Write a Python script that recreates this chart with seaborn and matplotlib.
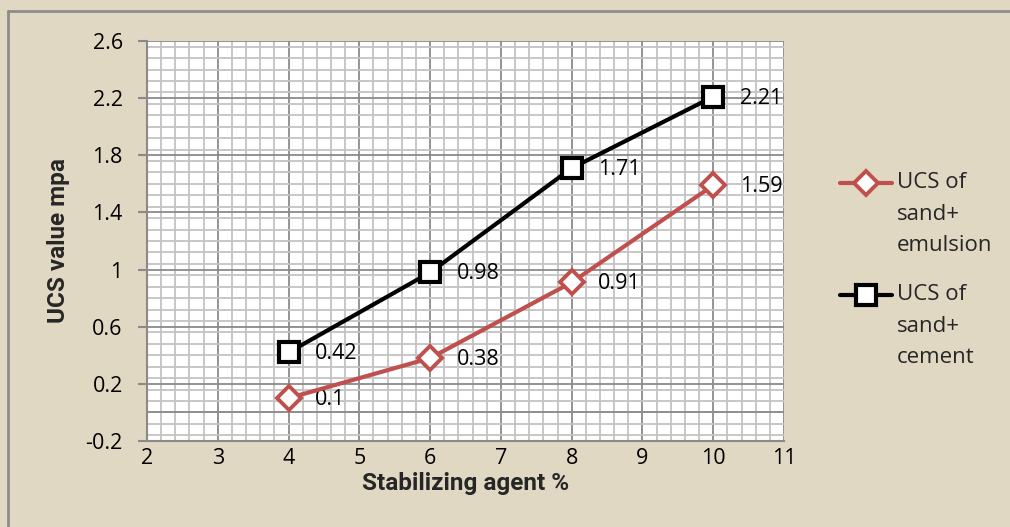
import seaborn as sns
import matplotlib.pyplot as plt
import matplotlib.lines as mlines
import pandas as pd
import numpy as np
from matplotlib.ticker import MultipleLocator

# data
agent_pct = [4, 6, 8, 10]
ucs_emulsion = [0.1, 0.38, 0.91, 1.59]
ucs_cement = [0.42, 0.98, 1.71, 2.21]
series_names = ['UCS of\nsand+\nemulsion', 'UCS of\nsand+\ncement']
y_ticks = [-0.2, 0.2, 0.6, 1.0, 1.4, 1.8, 2.2, 2.6]
y_tick_labels = ['-0.2', '0.2', '0.6', '1', '1.4', '1.8', '2.2', '2.6']

df = pd.DataFrame({
    'agent': agent_pct * 2,
    'ucs': ucs_emulsion + ucs_cement,
    'series': [series_names[0]] * 4 + [series_names[1]] * 4,
})

sns.set_theme(style='white')
plt.rcParams['font.family'] = ['Open Sans', 'DejaVu Sans']

bg = '#E1D8C3'
red = '#C0504D'
fs = 15.5
fig = plt.figure(figsize=(10.1, 5.27), dpi=100, facecolor=bg)
ax = fig.add_axes([147 / 1010, 1 - 441 / 527, 637 / 1010, 400 / 527])
ax.set_facecolor('white')

# chart border (left / top)
fig.add_artist(mlines.Line2D([8 / 1010, 8 / 1010], [0, 1 - 11 / 527], color='#8C8C8C', lw=2,
                             transform=fig.transFigure))
fig.add_artist(mlines.Line2D([8 / 1010, 1], [1 - 11 / 527, 1 - 11 / 527], color='#8C8C8C', lw=2,
                             transform=fig.transFigure))

ax.set_xlim(2, 11)
ax.set_ylim(-0.2, 2.6)
ax.xaxis.set_major_locator(MultipleLocator(1))
ax.xaxis.set_minor_locator(MultipleLocator(0.2))
ax.yaxis.set_minor_locator(MultipleLocator(0.08))
ax.set_yticks(y_ticks)
ax.set_yticklabels(y_tick_labels)
ax.grid(which='minor', color='#C3C3C3', lw=1.3)
ax.grid(which='major', color='#8A8A8A', lw=1.3)
ax.axhline(0, color='#8A8A8A', lw=1.3, zorder=1)
ax.set_axisbelow(True)
for s in ['top', 'right']:
    ax.spines[s].set_visible(False)
for s in ['left', 'bottom']:
    ax.spines[s].set_color('#8A8A8A')
    ax.spines[s].set_linewidth(1.5)
ax.tick_params(axis='both', which='major', labelsize=fs, labelcolor='black')
ax.tick_params(axis='y', left=True, direction='out', length=6.5, color='#8A8A8A',
               width=1.5, pad=11)
ax.tick_params(axis='x', bottom=False, pad=-1)

sns.lineplot(data=df[df['series'] == series_names[0]], x='agent', y='ucs', ax=ax,
             color=red, lw=3, marker='D', markersize=12, markerfacecolor='white',
             markeredgecolor=red, markeredgewidth=2.8, zorder=4)
sns.lineplot(data=df[df['series'] == series_names[1]], x='agent', y='ucs', ax=ax,
             color='black', lw=3, marker='s', markersize=14, markerfacecolor='white',
             markeredgecolor='black', markeredgewidth=3, zorder=5)

for x, y in zip(agent_pct, ucs_emulsion):
    ax.annotate(f'{y:g}', (x, y), xytext=(19, -1), textcoords='offset points',
                va='center', ha='left', fontsize=fs, color='black')
for x, y in zip(agent_pct, ucs_cement):
    ax.annotate(f'{y:g}', (x, y), xytext=(19, -1), textcoords='offset points',
                va='center', ha='left', fontsize=fs, color='black')

ax.set_xlabel('Stabilizing agent %', fontsize=17.5, fontweight='bold', family='Roboto',
              labelpad=2)
ax.set_ylabel('UCS value mpa', fontsize=17.5, fontweight='bold', family='Roboto')
ax.yaxis.set_label_coords(-77 / 637, 0.5)

# legend: handle beside the first line of each label
leg_items = [
    (series_names[0], red, 'D', 12, 2.8, 183),
    (series_names[1], 'black', 's', 14, 3, 295),
]
for label, col, mk, ms, mew, ypix in leg_items:
    yf = 1 - ypix / 527
    fig.add_artist(mlines.Line2D([840 / 1010, 892 / 1010], [yf, yf], lw=3, color=col,
                                 transform=fig.transFigure))
    fig.add_artist(mlines.Line2D([866 / 1010], [yf], lw=0, marker=mk, markersize=ms,
                                 markerfacecolor='white', markeredgecolor=col,
                                 markeredgewidth=mew, transform=fig.transFigure))
    fig.text(897 / 1010, yf + 11 / 527, label, ha='left', va='top', fontsize=16,
             multialignment='left', linespacing=1.66)

plt.savefig('out.png', dpi=100, facecolor=bg)
